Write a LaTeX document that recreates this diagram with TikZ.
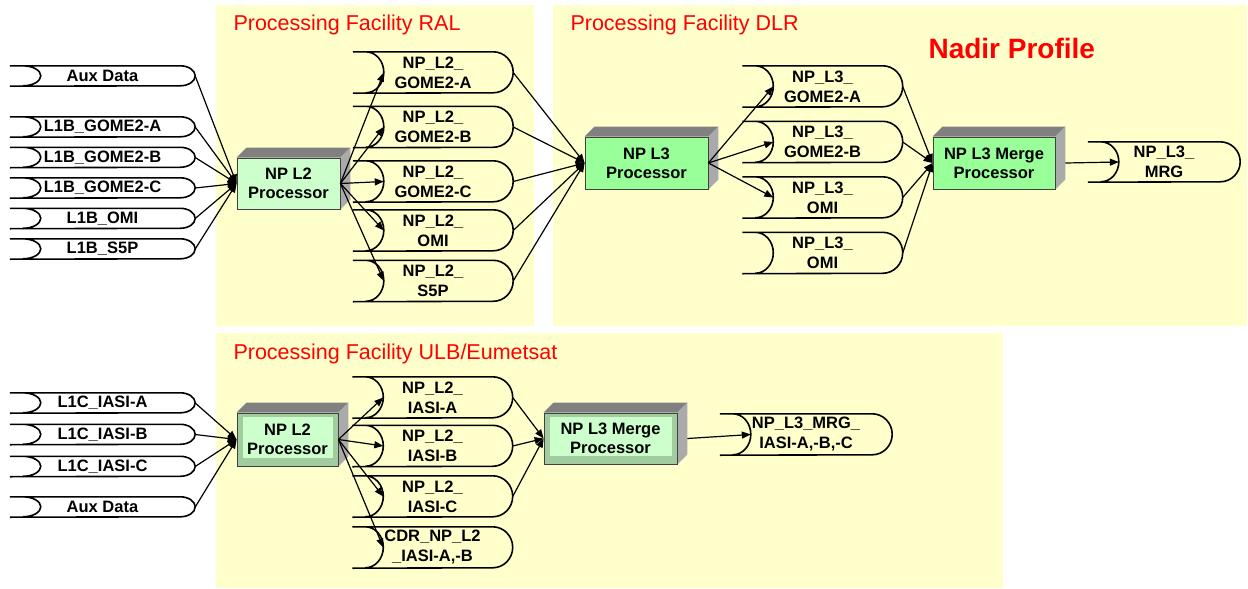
\documentclass[tikz,border=0pt]{standalone}
\usepackage{fontspec}
\setmainfont{Liberation Sans}
\usepackage{tikz}
\usetikzlibrary{positioning,calc,arrows.meta}

\definecolor{panel}{RGB}{255,255,204}
\definecolor{paleGreen}{RGB}{204,255,204}
\definecolor{brightGreen}{RGB}{153,255,153}
\definecolor{dullGreen}{RGB}{160,204,160}
\definecolor{boxTop}{RGB}{128,128,128}
\definecolor{boxSide}{RGB}{170,170,170}
\definecolor{titleRed}{RGB}{255,0,0}

\tikzset{
  store/.style n args={3}{minimum width=#1, minimum height=#2, inner sep=0pt, align=center,
    font=\bfseries\fontsize{16.5}{20}\selectfont,
    append after command={\pgfextra{
      \draw[line width=1.6pt]
        (\tikzlastnode.north west) -- ([xshift=-#3]\tikzlastnode.north east)
        arc[start angle=90, end angle=-90, x radius=#3, y radius=#2/2]
        -- (\tikzlastnode.south west)
        ([xshift=13pt]\tikzlastnode.north west)
        arc[start angle=90, end angle=-90, x radius=18pt, y radius=#2/2];
      \coordinate (\tikzlastnode-in) at ([xshift=31pt]\tikzlastnode.west);
    }}},
  in store/.style={store={185pt}{20pt}{15pt}},
  out store/.style={store={160pt}{41pt}{20pt}},
  proc/.style n args={3}{minimum width=#1, minimum height=#2, fill=#3, draw=black!75,
    line width=0.8pt, inner sep=0pt, align=center,
    font=\bfseries\fontsize{16.5}{19}\selectfont,
    append after command={\pgfextra{
      \fill[boxTop] (\tikzlastnode.north west) -- ++(10pt,10pt)
        -- ([shift={(10pt,10pt)}]\tikzlastnode.north east) -- (\tikzlastnode.north east) -- cycle;
      \fill[boxSide] (\tikzlastnode.north east) -- ++(10pt,10pt)
        -- ([shift={(10pt,10pt)}]\tikzlastnode.south east) -- (\tikzlastnode.south east) -- cycle;
    }}},
  bevel/.style={path picture={\fill[paleGreen]
      ([shift={(6pt,-4pt)}]path picture bounding box.north west) rectangle
      ([shift={(-5pt,8pt)}]path picture bounding box.south east);}},
  title/.style={anchor=base west, text=titleRed, font=\fontsize{21.5}{25}\selectfont},
  flow/.style={-{Triangle[length=9pt,width=7pt]}, line width=1.2pt},
}

\begin{document}
\begin{tikzpicture}[x=1pt, y=-1pt, on grid]
  \useasboundingbox (0,0) rectangle (1248,589);

  % facility panels
  \fill[panel] (216,5) rectangle (534,326);
  \fill[panel] (553,5) rectangle (1247,326);
  \fill[panel] (216,333) rectangle (1003,588);
  \node[title] (ralTitle) at (230,30) {Processing Facility RAL};
  \node[title] (dlrTitle) at (567,30) {Processing Facility DLR};
  \node[title] (ulbTitle) at (230,359) {Processing Facility ULB/Eumetsat};
  \node[anchor=base west, text=titleRed, font=\bfseries\fontsize{28}{32}\selectfont] (nadir) at (925,58) {Nadir Profile};

  % RAL inputs
  \node[in store] (auxR) at (102.5,76) {Aux Data};
  \node[in store] (gomeA) [below=51pt of auxR] {L1B\_GOME2-A};
  \node[in store] (gomeB) [below=30.5pt of gomeA] {L1B\_GOME2-B};
  \node[in store] (gomeC) [below=30.5pt of gomeB] {L1B\_GOME2-C};
  \node[in store] (omiR) [below=30.5pt of gomeC] {L1B\_OMI};
  \node[in store] (s5pR) [below=30.5pt of omiR] {L1B\_S5P};

  \node[proc={103pt}{51pt}{paleGreen}] (ralL2) at (288.5,183.5) {NP L2\\Processor};

  \node[out store] (l2gA) at (433,72.5) {NP\_L2\_\\GOME2-A};
  \node[out store] (l2gB) [below=54.5pt of l2gA] {NP\_L2\_\\GOME2-B};
  \node[out store] (l2gC) [below=54.5pt of l2gB] {NP\_L2\_\\GOME2-C};
  \node[out store] (l2omi) [below=49pt of l2gC] {NP\_L2\_\\OMI};
  \node[out store] (l2s5p) [below=50.5pt of l2omi] {NP\_L2\_\\S5P};

  % DLR
  \node[proc={123pt}{52pt}{brightGreen}] (dlrL3) at (646.5,163) {NP L3\\Processor};
  \node[out store] (l3gA) at (822.5,86.5) {NP\_L3\_\\GOME2-A};
  \node[out store] (l3gB) [below=55.5pt of l3gA] {NP\_L3\_\\GOME2-B};
  \node[out store] (l3omi) [below=55.5pt of l3gB] {NP\_L3\_\\OMI};
  \node[out store] (l3omiB) [below=55.5pt of l3omi] {NP\_L3\_\\OMI};
  \node[proc={122pt}{52pt}{brightGreen}] (dlrMerge) at (994,163) {NP L3 Merge\\Processor};
  \node[store={152pt}{40pt}{20pt}] (l3mrg) at (1164,162) {NP\_L3\_\\MRG};

  % ULB/Eumetsat
  \node[in store] (iasiA) at (102.5,403) {L1C\_IASI-A};
  \node[in store] (iasiB) [below=31.5pt of iasiA] {L1C\_IASI-B};
  \node[in store] (iasiC) [below=32pt of iasiB] {L1C\_IASI-C};
  \node[in store] (auxU) [below=40.5pt of iasiC] {Aux Data};

  \node[proc={101pt}{53pt}{dullGreen}, bevel] (ulbL2) at (287.5,439.5) {NP L2\\Processor};

  \node[out store] (l2iA) at (432.5,397.5) {NP\_L2\_\\IASI-A};
  \node[out store] (l2iB) [below=48.5pt of l2iA] {NP\_L2\_\\IASI-B};
  \node[out store] (l2iC) [below=50.5pt of l2iB] {NP\_L2\_\\IASI-C};
  \node[out store] (cdr) [below=51pt of l2iC] {CDR\_NP\_L2\\\_IASI-A,-B};

  \node[proc={133pt}{51pt}{dullGreen}, bevel] (ulbMerge) at (610.5,438.5) {NP L3 Merge\\Processor};
  \node[store={172pt}{41pt}{20pt}] (iasiMrg) at (806,434.5) {NP\_L3\_MRG\_\\IASI-A,-B,-C};

  % connectors
  \foreach \n in {auxR,gomeA,gomeB,gomeC,omiR,s5pR}
    \draw[flow] (\n.east) -- (ralL2.west);
  \foreach \n in {l2gA,l2gB,l2gC,l2omi,l2s5p}
    \draw[flow] (ralL2.east) -- (\n-in);
  \foreach \n in {l2gA,l2gB,l2gC,l2omi,l2s5p}
    \draw[flow] (\n.east) -- (dlrL3.west);
  \foreach \n in {l3gA,l3gB,l3omi}
    \draw[flow] (dlrL3.east) -- (\n-in);
  \foreach \n in {l3gA,l3gB,l3omi,l3omiB}
    \draw[flow] (\n.east) -- (dlrMerge.west);
  \draw[flow] ([xshift=10pt]dlrMerge.east) -- (l3mrg-in);

  \foreach \n in {iasiA,iasiB,iasiC,auxU}
    \draw[flow] (\n.east) -- (ulbL2.west);
  \foreach \n in {l2iA,l2iB,l2iC,cdr}
    \draw[flow] (ulbL2.east) -- (\n-in);
  \foreach \n in {l2iA,l2iB,l2iC}
    \draw[flow] (\n.east) -- (ulbMerge.west);
  \draw[flow] ([xshift=10pt]ulbMerge.east) -- (iasiMrg-in);
\end{tikzpicture}
\end{document}
